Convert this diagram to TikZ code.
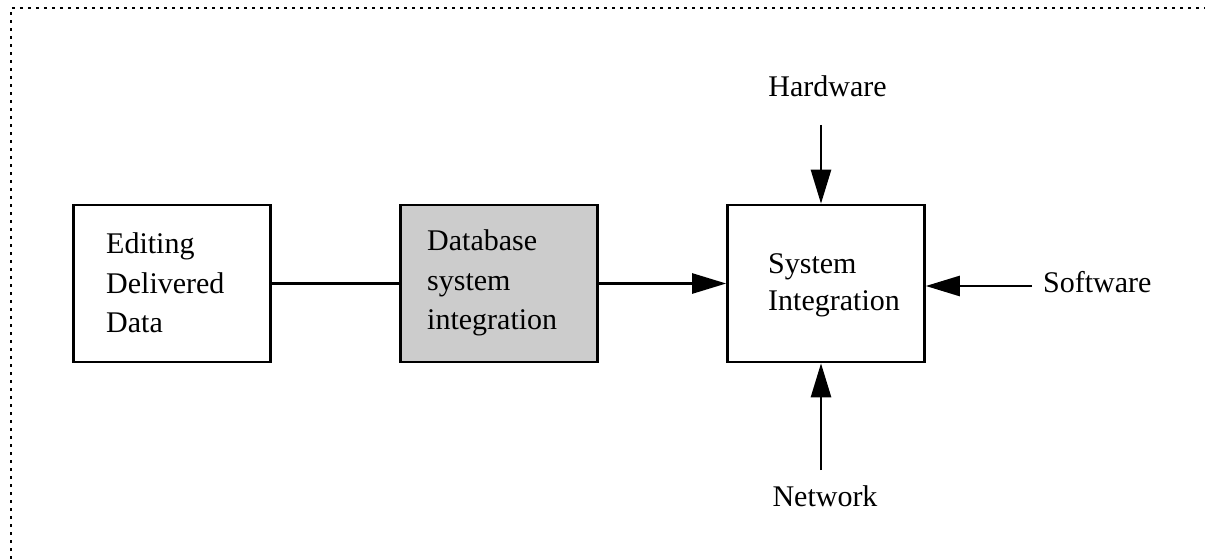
\documentclass[tikz,border=0pt]{standalone}
\usepackage{fontspec}
\setmainfont{Liberation Serif}
\usetikzlibrary{arrows.meta}
\definecolor{boxgray}{RGB}{204,204,204}
\tikzset{
  block/.style={draw, line width=2.6pt, minimum width=197pt, minimum height=157pt, inner sep=0pt},
  blocktext/.style={anchor=west, align=left, inner sep=0pt, font=\fontsize{30}{39.5}\selectfont},
  lbl/.style={inner sep=0pt, font=\fontsize{30}{37}\selectfont},
  link/.style={line width=2.6pt},
  arr/.style={line width=2.6pt, -{Triangle[length=34pt, width=20pt]}},
  frame/.style={line width=2.8pt, dash pattern=on 2.8pt off 5.2pt}
}
\begin{document}
\begin{tikzpicture}[x=1pt, y=-1pt]
  \useasboundingbox (0,0) rectangle (1205,559);
  % dotted frame along top and left
  \draw[frame] (11,559) -- (11,8) -- (1205,8);

  % blocks
  \node[block] (edit) at (172,283.5) {};
  \node[block, fill=boxgray] (dbase) at (499,283.5) {};
  \node[block] (sysint) at (826,283.5) {};

  \node[blocktext] (edittxt) at (106,283) {Editing\\Delivered\\Data};
  \node[blocktext] (dbasetxt) at (427,283) {Database\\system\\integration};
  \node[blocktext, font=\fontsize{30}{37}\selectfont] (sysinttxt) at (768,285) {System\\Integration};

  % inputs
  \node[lbl, anchor=base] (hw) at (827.5,97) {Hardware};
  \node[lbl, anchor=base west] (sw) at (1043,292) {Software};
  \node[lbl, anchor=base] (nw) at (825,506) {Network};

  \coordinate (hwtail) at (821,125);
  \coordinate (swtail) at (1032,286);
  \coordinate (nwtail) at (821,470);

  % connectors
  \draw[link] (edit.east) -- (dbase.west);
  \draw[arr] (dbase.east) -- (sysint.west);
  \draw[arr] (hwtail) -- (hwtail |- sysint.north);
  \draw[arr] (swtail) -- (swtail -| sysint.east);
  \draw[arr] (nwtail) -- (nwtail |- sysint.south);
\end{tikzpicture}
\end{document}
